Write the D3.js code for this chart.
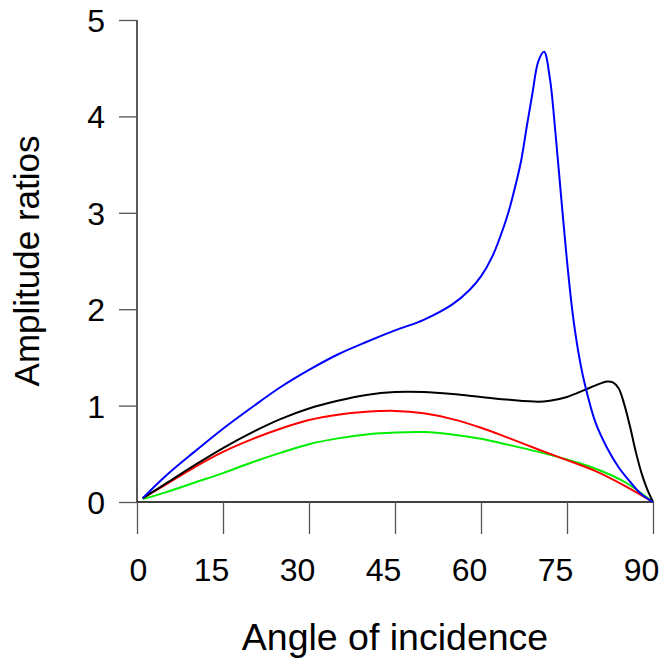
<!DOCTYPE html>
<html>
<head>
<meta charset="utf-8">
<script src="https://cdn.jsdelivr.net/npm/d3@7"></script>
<style>
  html, body { margin: 0; padding: 0; background: #fff; }
  svg { display: block; font-family: "Liberation Sans", Arial, sans-serif; }
</style>
</head>
<body>
<svg id="chart" width="659" height="662"></svg>
<script>
// ---- data ----
const xTicks = [0, 15, 30, 45, 60, 75, 90];
const yTicks = [0, 1, 2, 3, 4, 5];
const xTitle = "Angle of incidence";
const yTitle = "Amplitude ratios";

const blueAngles = [1, 5, 10, 15, 20, 25, 30, 35, 40, 45, 50, 55, 58, 60, 62, 64, 65, 66, 67, 68, 69, 70, 71, 72, 73, 74, 75, 76, 77, 78, 80, 82, 84, 86, 88, 90];
const blueValues = [0.04, 0.27, 0.52, 0.76, 0.98, 1.19, 1.37, 1.53, 1.66, 1.78, 1.89, 2.05, 2.20, 2.34, 2.55, 2.86, 3.05, 3.28, 3.54, 3.90, 4.25, 4.57, 4.67, 4.40, 3.82, 3.15, 2.50, 1.95, 1.55, 1.25, 0.82, 0.56, 0.36, 0.21, 0.08, 0.0];

const blackAngles = [1, 5, 10, 15, 20, 25, 30, 35, 40, 45, 50, 55, 60, 65, 70, 72, 75, 78, 80, 82, 83, 84, 85, 86, 87, 88, 89, 90];
const blackValues = [0.04, 0.19, 0.38, 0.56, 0.72, 0.86, 0.97, 1.05, 1.11, 1.14, 1.14, 1.12, 1.09, 1.06, 1.04, 1.05, 1.09, 1.16, 1.21, 1.25, 1.24, 1.18, 1.01, 0.78, 0.52, 0.30, 0.13, 0.0];

const redAngles = [1, 5, 10, 15, 20, 25, 30, 35, 40, 45, 50, 55, 60, 65, 70, 75, 80, 85, 90];
const redValues = [0.04, 0.18, 0.36, 0.52, 0.65, 0.76, 0.85, 0.905, 0.935, 0.945, 0.92, 0.86, 0.77, 0.66, 0.545, 0.435, 0.32, 0.17, 0.0];

const greenAngles = [1, 5, 10, 15, 20, 25, 30, 35, 40, 45, 50, 55, 60, 65, 70, 75, 80, 85, 90];
const greenValues = [0.03, 0.10, 0.20, 0.30, 0.41, 0.51, 0.60, 0.66, 0.70, 0.72, 0.725, 0.70, 0.655, 0.59, 0.52, 0.44, 0.345, 0.21, 0.0];

const seriesList = [
  { name: "green", color: "#00ee00", angles: greenAngles, values: greenValues },
  { name: "red", color: "#ff0000", angles: redAngles, values: redValues },
  { name: "black", color: "#000000", angles: blackAngles, values: blackValues },
  { name: "blue", color: "#0000ff", angles: blueAngles, values: blueValues }
];

// ---- layout ----
const svg = d3.select("#chart");
const x = d3.scaleLinear().domain([0, 90]).range([137, 653]);
const y = d3.scaleLinear().domain([0, 5]).range([502, 20]);

const tickColor = "#555";
const fontFam = "Liberation Sans, Arial, sans-serif";

// y axis
const yAxis = svg.append("g").attr("transform", `translate(${x(0)},0)`)
  .call(d3.axisLeft(y).tickValues(yTicks).tickSize(18).tickPadding(14).tickFormat(d3.format("d")));
yAxis.select(".domain").attr("stroke", "#000").attr("stroke-width", 1.3).attr("d", `M0,${y(5)}V${y(0)}`);
yAxis.selectAll(".tick line").attr("stroke", tickColor).attr("stroke-width", 1.3);
yAxis.selectAll(".tick text").attr("font-size", 32).attr("fill", "#000")
  .attr("font-family", fontFam).attr("x", -32).attr("dy", "0.36em");

// x axis (at y=0, ticks pointing down)
const xAxis = svg.append("g").attr("transform", `translate(0,${y(0)})`)
  .call(d3.axisBottom(x).tickValues(xTicks).tickSize(32).tickPadding(12).tickFormat(d3.format("d")));
xAxis.select(".domain").attr("stroke", "#000").attr("stroke-width", 1.3).attr("d", `M${x(0)},0H${x(90)}`);
xAxis.selectAll(".tick line").attr("stroke", tickColor).attr("stroke-width", 1.3);
xAxis.selectAll(".tick text")
  .attr("font-size", 32).attr("fill", "#000").attr("font-family", fontFam)
  .attr("y", 79).attr("dy", 0)
  .attr("x", d => (String(d).length > 1 ? -12 : 1));

// lines
const line = d3.line()
  .x(d => x(d[0]))
  .y(d => y(d[1]))
  .curve(d3.curveCatmullRom.alpha(0.5));

seriesList.forEach(s => {
  const pts = s.angles.map((a, i) => [a, s.values[i]]);
  svg.append("path")
    .datum(pts)
    .attr("fill", "none")
    .attr("stroke", s.color)
    .attr("stroke-width", 2)
    .attr("stroke-linejoin", "round")
    .attr("d", line);
});

// axis titles
svg.append("text")
  .attr("x", (x(0) + x(90)) / 2)
  .attr("y", 650)
  .attr("text-anchor", "middle")
  .attr("font-size", 37.5)
  .attr("fill", "#000")
  .text(xTitle);

svg.append("text")
  .attr("transform", `translate(39,${(y(0) + y(5)) / 2}) rotate(-90)`)
  .attr("text-anchor", "middle")
  .attr("font-size", 35)
  .attr("fill", "#000")
  .text(yTitle);
</script>
</body>
</html>
